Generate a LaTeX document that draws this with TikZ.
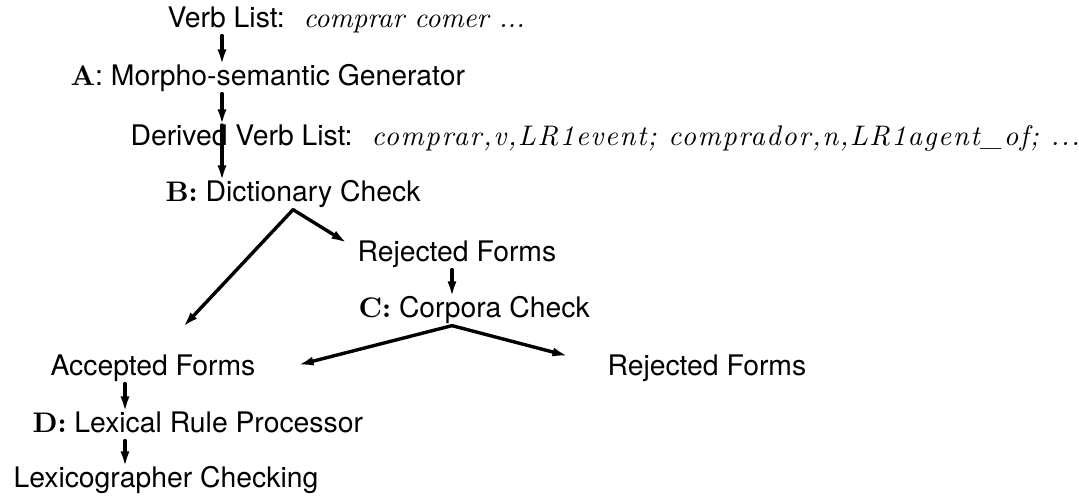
\documentclass[tikz,border=0pt]{standalone}
\usepackage[no-math]{fontspec}
\setmainfont{TeX Gyre Heros}
\newfontfamily\cmr{Latin Modern Roman}
\newfontfamily\cmrwide[LetterSpace=5.5]{Latin Modern Roman}
\usetikzlibrary{arrows.meta}

\newcommand{\stagelabel}[1]{{\cmr\bfseries #1}}
\newcommand{\wordlist}[1]{\hspace{6.7pt}{\cmr\itshape #1}}

\begin{document}
\begin{tikzpicture}[
	x=0.353pt,
	y=-0.353pt,
	line cap=round,
	line join=round,
	every node/.style={inner sep=0pt, anchor=base west, text height=7.2pt, text depth=2.5pt},
	flow/.style={line width=1.2pt, -{Latex[length=5.5pt,width=3.2pt]}}
	]
	\useasboundingbox (0,0) rectangle (1079,497);
	% columns the straight arrows run in
	\coordinate (trunk) at (222,0);
	\coordinate (mid) at (452,0);
	\coordinate (low) at (125,0);

	\node (verbs) at (167,28) {Verb List:\wordlist{comprar comer ...}};
	\node (gen) at (70,86) {\stagelabel{A}: Morpho-semantic Generator};
	\node (derived) at (130,146) {Derived Verb List:\hspace{6.7pt}{\cmrwide\itshape comprar,v,LR1event; comprador,n,LR1agent\_of; ...}};
	\node (dict) at (165,202) {\stagelabel{B:} Dictionary Check};
	\node (rejdict) at (357,262) {Rejected Forms};
	\node (corpora) at (358,318) {\stagelabel{C:} Corpora Check};
	\node (accepted) at (50,376) {Accepted Forms};
	\node (rejcorp) at (607,376) {Rejected Forms};
	\node (rules) at (32,433) {\stagelabel{D:} Lexical Rule Processor};
	\node (lexi) at (13,488) {Lexicographer Checking};

	% loose ends of the forking arrows
	\coordinate (toaccB) at (183,327);
	\coordinate (torejB) at (347,243);
	\coordinate (toaccC) at (298,365);
	\coordinate (torejC) at (568,356);

	\draw [flow] (verbs.south -| trunk) -- (gen.north -| trunk);
	\draw [flow] (gen.south -| trunk) -- (derived.north -| trunk);
	\draw [flow] (derived.north -| trunk) -- (dict.north -| trunk);
	\draw [flow] (dict.south) -- (toaccB);
	\draw [flow] (dict.south) -- (torejB);
	\draw [flow] (rejdict.south -| mid) -- (corpora.north -| mid);
	\draw [flow] (corpora.south -| mid) -- (toaccC);
	\draw [flow] (corpora.south -| mid) -- (torejC);
	\draw [flow] (accepted.south -| low) -- (rules.north -| low);
	\draw [flow] (rules.south -| low) -- (lexi.north -| low);
\end{tikzpicture}
\end{document}
